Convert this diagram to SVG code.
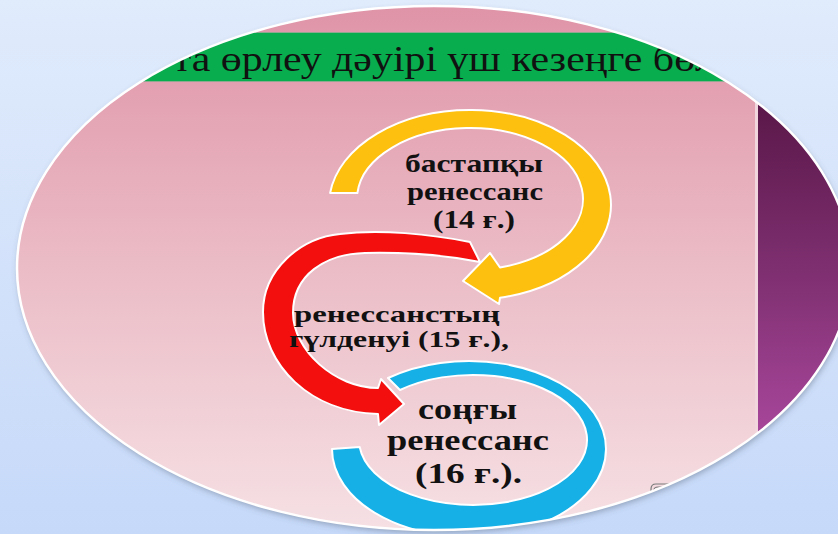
<svg xmlns="http://www.w3.org/2000/svg" width="838" height="534" viewBox="0 0 838 534">
<defs>
<linearGradient id="bg" x1="0" y1="0" x2="0" y2="1">
<stop offset="0" stop-color="#e0ebfc"/>
<stop offset="1" stop-color="#c6d9f9"/>
</linearGradient>
<linearGradient id="pink" x1="0" y1="0" x2="0" y2="534" gradientUnits="userSpaceOnUse">
<stop offset="0" stop-color="#df93a6"/>
<stop offset="0.5" stop-color="#ebbcc6"/>
<stop offset="1" stop-color="#f6e1e5"/>
</linearGradient>
<linearGradient id="purple" x1="0" y1="100" x2="0" y2="440" gradientUnits="userSpaceOnUse">
<stop offset="0" stop-color="#5a1748"/>
<stop offset="0.5" stop-color="#7e2f70"/>
<stop offset="1" stop-color="#a9479c"/>
</linearGradient>
<clipPath id="oval">
<ellipse cx="434" cy="268" rx="417" ry="262"/>
</clipPath>
<filter id="sh" x="-5%" y="-5%" width="110%" height="115%">
<feDropShadow dx="1" dy="3" stdDeviation="3" flood-color="#4a5a70" flood-opacity="0.45"/>
</filter>
<style>
.arrow{stroke:#ffffff;stroke-width:2;stroke-linejoin:round}
.lbl{font-family:"Liberation Serif","Times New Roman",serif;font-weight:bold;fill:#111111}
.title{font-family:"Liberation Serif","Times New Roman",serif;font-size:36px;fill:#111111}
</style>
</defs>
<rect width="838" height="534" fill="url(#bg)"/>
<ellipse cx="434" cy="268" rx="417" ry="262" fill="url(#pink)" filter="url(#sh)"/>
<g clip-path="url(#oval)">
<rect x="0" y="0" width="838" height="534" fill="url(#pink)"/>
<rect x="755" y="0" width="3" height="534" fill="#f2d6de"/>
<rect x="758" y="0" width="90" height="534" fill="url(#purple)"/>
<g id="title">
<rect x="0" y="32" width="838" height="50" fill="#08ad4e"/>
<line x1="0" y1="32.5" x2="838" y2="32.5" stroke="#8fa88f" stroke-width="1"/>
<line x1="0" y1="81.5" x2="838" y2="81.5" stroke="#8fa88f" stroke-width="1"/>
<text class="title" x="173" y="71" textLength="543" lengthAdjust="spacingAndGlyphs">та өрлеу дәуірі үш кезеңге бөл</text>
</g>
<g id="connectors">
<path class="arrow" fill="#fec00f" d="M330.1,193 A141,95 0 1 1 500,297.8 L499,304 L463,281 L490,253 L500,267.5 A113,71 0 1 0 357.4,193 Z"/>
<path class="arrow" fill="#f40f0f" d="M470,242 C430,234 380,229 340,234 C300,238 263,270 263,312 C263,365 310,412 378,414 L379,425 L404,404 L381,379 L378,388 C335,388 293,350 293,313 C293,275 325,254 365,253 C410,252 450,256 480,262 Z"/>
<path class="arrow" fill="#17b0e6" d="M332,449 A137,88 0 1 0 388,378 L400,390 A114,65 0 1 1 359.7,447 Z"/>
</g>
<path d="M651,497 L651,489 Q651,484 656,484 L690,484 M654,497 L654,490 Q654,487 658,487 L690,487" fill="none" stroke="#7a7a7a" stroke-width="1.2"/>
<g id="stage1">
<text class="lbl" font-size="25" x="405" y="172" textLength="138" lengthAdjust="spacingAndGlyphs">бастапқы</text>
<text class="lbl" font-size="25" x="407" y="200" textLength="136" lengthAdjust="spacingAndGlyphs">ренессанс</text>
<text class="lbl" font-size="25" x="433" y="228" textLength="82" lengthAdjust="spacingAndGlyphs">(14 ғ.)</text>
</g>
<g id="stage2">
<text class="lbl" font-size="24" x="294" y="322" textLength="206" lengthAdjust="spacingAndGlyphs">ренессанстың</text>
<text class="lbl" font-size="24" x="289" y="347" textLength="220" lengthAdjust="spacingAndGlyphs">гүлденуі (15 ғ.),</text>
</g>
<g id="stage3">
<text class="lbl" font-size="30" x="418" y="419" textLength="99" lengthAdjust="spacingAndGlyphs">соңғы</text>
<text class="lbl" font-size="30" x="387" y="450" textLength="162" lengthAdjust="spacingAndGlyphs">ренессанс</text>
<text class="lbl" font-size="30" x="415" y="483" textLength="107" lengthAdjust="spacingAndGlyphs">(16 ғ.).</text>
</g>
</g>
<ellipse cx="434" cy="268" rx="417" ry="262" fill="none" stroke="#ffffff" stroke-width="2.5"/>
</svg>
